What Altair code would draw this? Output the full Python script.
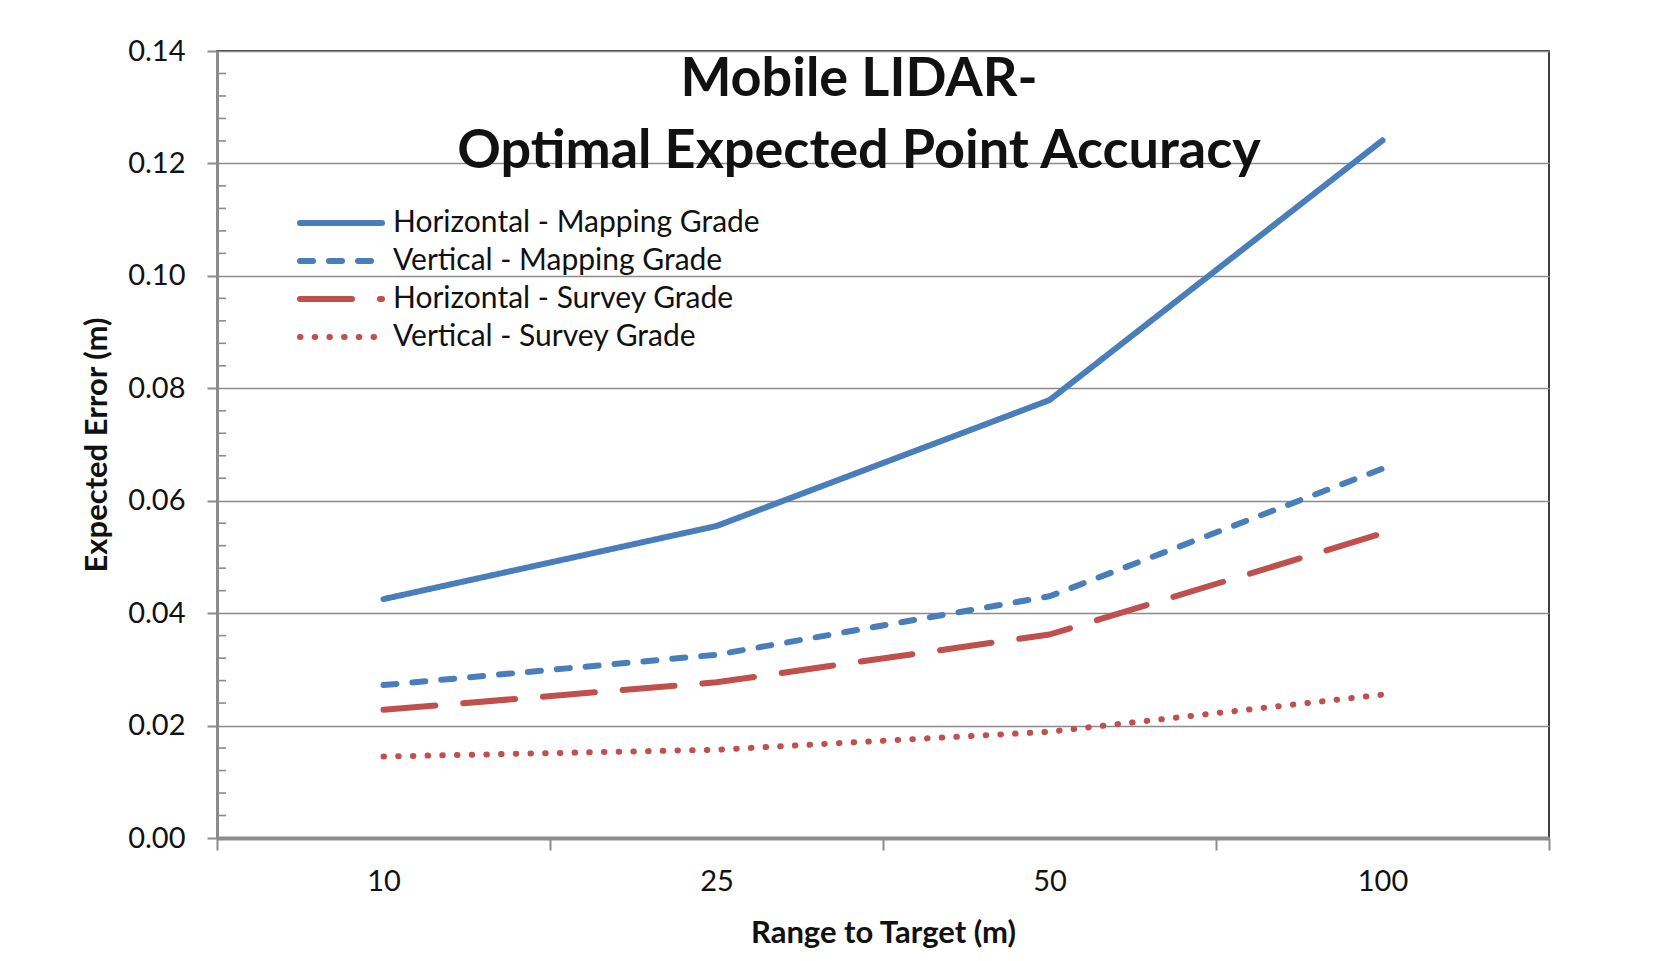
import altair as alt
import pandas as pd

# ---- data ----
ranges = ["10", "25", "50", "100"]
series_names = [
    "Horizontal - Mapping Grade",
    "Vertical - Mapping Grade",
    "Horizontal - Survey Grade",
    "Vertical - Survey Grade",
]
h_mapping = [0.0425, 0.0555, 0.0779, 0.1241]
v_mapping = [0.0272, 0.0326, 0.0430, 0.0657]
h_survey = [0.0228, 0.0277, 0.0362, 0.0542]
v_survey = [0.0145, 0.0157, 0.0189, 0.0255]
y_tick_values = [0.00, 0.02, 0.04, 0.06, 0.08, 0.10, 0.12, 0.14]
minor_tick_values = [0.004, 0.008, 0.012, 0.016, 0.024, 0.028, 0.032, 0.036,
                     0.044, 0.048, 0.052, 0.056, 0.064, 0.068, 0.072, 0.076,
                     0.084, 0.088, 0.092, 0.096, 0.104, 0.108, 0.112, 0.116,
                     0.124, 0.128, 0.132, 0.136]
title_lines = ["Mobile LIDAR-", "Optimal Expected Point Accuracy"]
x_title = "Range to Target (m)"
y_title = "Expected Error (m)"

series_values = [h_mapping, v_mapping, h_survey, v_survey]
rows = []
for name, vals in zip(series_names, series_values):
    for r, v in zip(ranges, vals):
        rows.append({"range": r, "value": v, "series": name})
df = pd.DataFrame(rows)
legend_df = pd.DataFrame({"series": series_names})

BLUE = "#4a7ebb"
RED = "#c0504d"
GRID = "#8c8c8c"
FONT = "Lato"
TXT = "#111111"

color_scale = alt.Scale(domain=series_names, range=[BLUE, BLUE, RED, RED])
dash_scale = alt.Scale(domain=series_names, range=[[1, 0], [13, 16], [52, 28], [0.5, 14.2]])

x_enc = alt.X(
    "range:O",
    sort=ranges,
    scale=alt.Scale(type="band", paddingInner=0, paddingOuter=0),
    bandPosition=0.5,
    axis=alt.Axis(
        title=x_title,
        tickBand="extent",
        grid=False,
        labelAngle=0,
        labelFont=FONT,
        labelFontSize=29,
        labelColor=TXT,
        labelPadding=17,
        tickSize=12,
        tickWidth=2,
        tickColor=GRID,
        domainColor=GRID,
        domainWidth=4,
        titleFont=FONT,
        titleFontSize=31,
        titleFontWeight="bold",
        titleColor=TXT,
        titlePadding=22,
    ),
)

y_axis = alt.Axis(
    title=y_title,
    values=y_tick_values,
    format=".2f",
    grid=True,
    gridColor=GRID,
    gridWidth=1.6,
    labelFont=FONT,
    labelFontSize=29,
    labelColor=TXT,
    labelPadding=22,
    tickSize=10,
    tickWidth=2,
    tickColor=GRID,
    domainColor=GRID,
    domainWidth=3,
    titleFont=FONT,
    titleFontSize=31,
    titleFontWeight="bold",
    titleColor=TXT,
    titlePadding=14,
)

y_scale = alt.Scale(domain=[0, 0.14], nice=False, zero=True)

lines = alt.Chart(df).mark_line(strokeWidth=6, strokeCap="round", strokeJoin="round").encode(
    x=x_enc,
    y=alt.Y("value:Q", scale=y_scale, axis=y_axis),
    color=alt.Color("series:N", sort=series_names, scale=color_scale, legend=None),
    strokeDash=alt.StrokeDash("series:N", sort=series_names, scale=dash_scale, legend=None),
)

minor_df = pd.DataFrame({"value": minor_tick_values})
minor = alt.Chart(minor_df).mark_rule(color=GRID, strokeWidth=1.6).encode(
    y=alt.Y("value:Q", scale=y_scale, axis=y_axis),
    x=alt.value(0),
    x2=alt.value(9),
)

# manual legend inside the plot
leg_y = alt.Y("series:N", sort=series_names, axis=None,
              scale=alt.Scale(type="point", range=[172, 286], padding=0))
leg_sym = alt.Chart(legend_df).mark_rule(strokeWidth=6, strokeCap="round").encode(
    y=leg_y,
    x=alt.value(83),
    x2=alt.value(165),
    color=alt.Color("series:N", sort=series_names, scale=color_scale, legend=None),
    strokeDash=alt.StrokeDash("series:N", sort=series_names, scale=dash_scale, legend=None),
)
leg_txt = alt.Chart(legend_df).mark_text(
    font=FONT, fontSize=30, align="left", baseline="middle", color=TXT
).encode(y=leg_y, x=alt.value(176), text="series:N")

t1 = alt.Chart(pd.DataFrame({"t": [title_lines[0]]})).mark_text(
    font=FONT, fontSize=54, fontWeight="bold", align="center", baseline="alphabetic", color=TXT
).encode(text="t:N", x=alt.value(642), y=alt.value(45))

t2 = alt.Chart(pd.DataFrame({"t": [title_lines[1]]})).mark_text(
    font=FONT, fontSize=54, fontWeight="bold", align="center", baseline="alphabetic", color=TXT
).encode(text="t:N", x=alt.value(642), y=alt.value(117))

main = alt.layer(lines, minor)
legend_layer = alt.layer(leg_sym, leg_txt)

chart = alt.layer(main, legend_layer, t1, t2).resolve_scale(y="independent").properties(
    width=1332,
    height=787,
    autosize=alt.AutoSizeParams(type="none"),
    padding={"left": 209, "top": 43, "right": 106, "bottom": 115},
    background="white",
).configure_view(stroke="black", strokeWidth=1.5)

chart.save("out.html", embed_options={"renderer": "svg", "actions": False})
